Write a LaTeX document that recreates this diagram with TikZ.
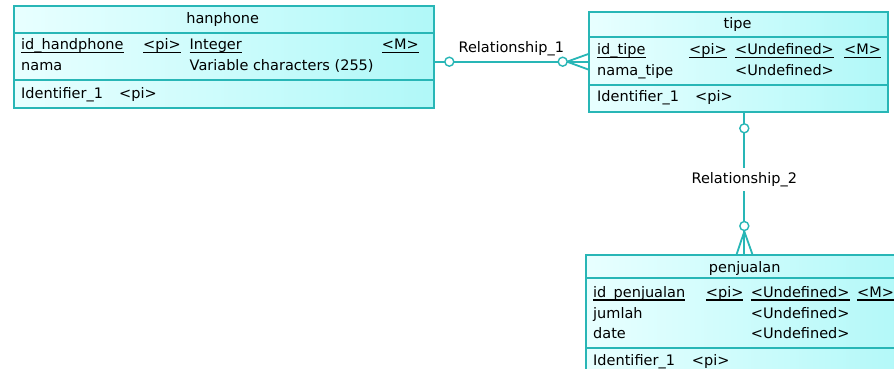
\documentclass[tikz,border=0pt]{standalone}
\usepackage{fontspec}
\setmainfont{DejaVu Sans}
\definecolor{pdline}{RGB}{40,182,182}
\definecolor{pdleft}{RGB}{232,255,255}
\definecolor{pdright}{RGB}{176,248,248}
\newcommand\keyul[1]{\setbox0\hbox{#1}\dp0=0pt\vtop{\box0\kern2.4pt\hrule height 1.1pt}}
\tikzset{
  entity/.style={draw=pdline, line width=1.9pt, left color=pdleft, right color=pdright,
    rectangle, anchor=north west, inner sep=0pt},
  divider/.style={draw=pdline, line width=1.9pt},
  txt/.style={font=\fontsize{14.5}{16}\selectfont, inner sep=0pt, anchor=base west, text=black},
  rel/.style={draw=pdline, line width=1.8pt},
  card/.style={circle, draw=pdline, fill=white, line width=1.4pt, minimum size=9pt, inner sep=0pt},
}
\begin{document}
\begin{tikzpicture}[x=1pt,y=-1pt]
\useasboundingbox (0,0) rectangle (894,368);
\clip (0,0) rectangle (894,368);
\fill[white] (0,0) rectangle (894,368);

% ---------- hanphone ----------
\node[entity, minimum width=419.5pt, minimum height=101.4pt] (hanphone) at (13.3,5.3) {};
\draw[divider] (hanphone.west |- 0,32.7) -- (hanphone.east |- 0,32.7);
\draw[divider] (hanphone.west |- 0,80) -- (hanphone.east |- 0,80);
\node[txt, anchor=base] (hT) at (222.7,23) {hanphone};
\node[txt] (h1a) at (21,49.5) {\keyul{id\_handphone}};
\node[txt] (h1b) at (143,49.5) {\keyul{<pi>}};
\node[txt] (h1c) at (189.5,49.5) {\keyul{Integer}};
\node[txt, anchor=base east] (h1d) at (419,49.5) {\keyul{<M>}};
\node[txt] (h2a) at (21,70) {nama};
\node[txt] (h2c) at (189.5,70) {Variable characters (255)};
\node[txt] (h3a) at (21,98.5) {Identifier\_1};
\node[txt] (h3b) at (119,98.5) {<pi>};

% ---------- tipe ----------
\node[entity, minimum width=298.4pt, minimum height=100.3pt] (tipe) at (588.3,10.7) {};
\draw[divider] (tipe.west |- 0,36.7) -- (tipe.east |- 0,36.7);
\draw[divider] (tipe.west |- 0,85) -- (tipe.east |- 0,85);
\node[txt, anchor=base] (tT) at (737.5,28.3) {tipe};
\node[txt] (t1a) at (597,54.5) {\keyul{id\_tipe}};
\node[txt] (t1b) at (689,54.5) {\keyul{<pi>}};
\node[txt] (t1c) at (735,54.5) {\keyul{<Undefined>}};
\node[txt] (t1d) at (844,54.5) {\keyul{<M>}};
\node[txt] (t2a) at (597,75) {nama\_tipe};
\node[txt] (t2c) at (735,75) {<Undefined>};
\node[txt] (t3a) at (597,101.5) {Identifier\_1};
\node[txt] (t3b) at (695,101.5) {<pi>};

% ---------- penjualan ----------
\node[entity, minimum width=330pt, minimum height=135pt] (penjualan) at (585,254) {};
\draw[divider] (penjualan.west |- 0,278.3) -- (penjualan.east |- 0,278.3);
\draw[divider] (penjualan.west |- 0,348.3) -- (penjualan.east |- 0,348.3);
\node[txt, anchor=base] (pT) at (744.7,272.3) {penjualan};
\node[txt] (p1a) at (593,297) {\keyul{id\_penjualan}};
\node[txt] (p1b) at (705.7,297) {\keyul{<pi>}};
\node[txt] (p1c) at (750.7,297) {\keyul{<Undefined>}};
\node[txt] (p1d) at (857,297) {\keyul{<M>}};
\node[txt] (p2a) at (593,318.5) {jumlah};
\node[txt] (p2c) at (750.7,318.5) {<Undefined>};
\node[txt] (p3a) at (593,338.5) {date};
\node[txt] (p3c) at (750.7,338.5) {<Undefined>};
\node[txt] (p4a) at (593,365) {Identifier\_1};
\node[txt] (p4b) at (691.7,365) {<pi>};

% ---------- Relationship_1 ----------
\coordinate (r1y) at (0,61.7);
\coordinate (cf1) at (567,61.7);
\draw[rel] (hanphone.east |- r1y) -- (tipe.west |- r1y);
\draw[rel] (cf1) -- (tipe.west |- 0,54);
\draw[rel] (cf1) -- (tipe.west |- 0,69.5);
\node[card] (c1a) at (449.3,61.7) {};
\node[card] (c1b) at (562.7,61.7) {};
\node[txt, anchor=base] (r1lab) at (511.3,52) {Relationship\_1};

% ---------- Relationship_2 ----------
\coordinate (r2x) at (744.3,0);
\coordinate (cf2) at (744.3,231.5);
\draw[rel] (tipe.south -| r2x) -- (penjualan.north -| r2x);
\draw[rel] (cf2) -- (736.7,254);
\draw[rel] (cf2) -- (752.3,254);
\node[card] (c2a) at (744.3,128.3) {};
\node[card] (c2b) at (744.3,226) {};
\node[txt, anchor=base, fill=white, inner xsep=2pt, inner ysep=4pt] (r2lab) at (744.3,183.5) {Relationship\_2};
\end{tikzpicture}
\end{document}
